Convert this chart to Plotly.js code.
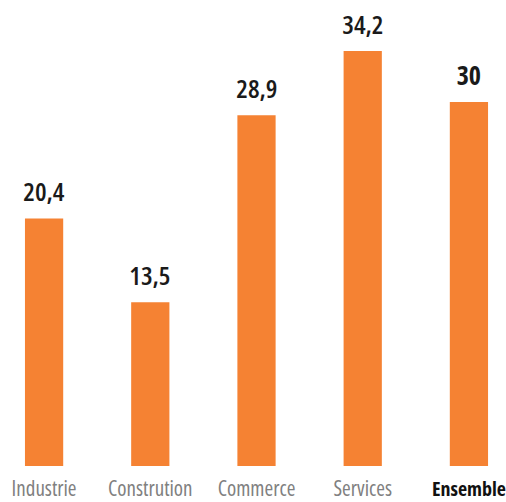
<!DOCTYPE html>
<html>
<head>
<meta charset="utf-8">
<script src="https://cdn.plot.ly/plotly-3.0.1.min.js"></script>
<style>html,body{margin:0;padding:0;background:#fff;}#chart{width:506px;height:502px;}
#chart svg text{font-stretch:condensed !important;}</style>
</head>
<body>
<div id="chart"></div>
<script>
const categories = ["Industrie", "Constrution", "Commerce", "Services", "Ensemble"];
const values = [20.4, 13.5, 28.9, 34.2, 30];
const valueLabels = ["20,4", "13,5", "28,9", "34,2", "30"];
const tickLabels = ["Industrie", "Constrution", "Commerce", "Services", "<b><span style='color:#111111;font-size:20px'>Ensemble</span></b>"];

const FONT = "'Open Sans', sans-serif";

const trace = {
  type: "bar",
  x: categories,
  y: values,
  width: 0.36,
  marker: {color: "#F58233"},
  hoverinfo: "none"
};

const annotations = categories.map((c, i) => ({
  x: c, y: values[i], xref: "x", yref: "y",
  text: valueLabels[i],
  showarrow: false, yanchor: "bottom", yshift: 7,
  font: {family: FONT, size: 26, color: "#1a1a1a", weight: i === categories.length - 1 ? 700 : 600}
}));

const layout = {
  width: 506, height: 502,
  margin: {l: 0, r: 0, t: 0, b: 36},
  paper_bgcolor: "#fff", plot_bgcolor: "#fff",
  showlegend: false,
  xaxis: {
    range: [-0.415, 4.349],
    tickmode: "array", tickvals: categories, ticktext: tickLabels,
    showgrid: false, zeroline: false, showline: false, ticks: "",
    tickangle: 0,
    ticklabelstandoff: 8,
    tickfont: {family: FONT, size: 21, color: "#808080"}
  },
  yaxis: {
    range: [0, 38.4], visible: false, showgrid: false, zeroline: false
  },
  annotations: annotations
};

Plotly.newPlot("chart", [trace], layout, {displayModeBar: false, staticPlot: true});
</script>
</body>
</html>
